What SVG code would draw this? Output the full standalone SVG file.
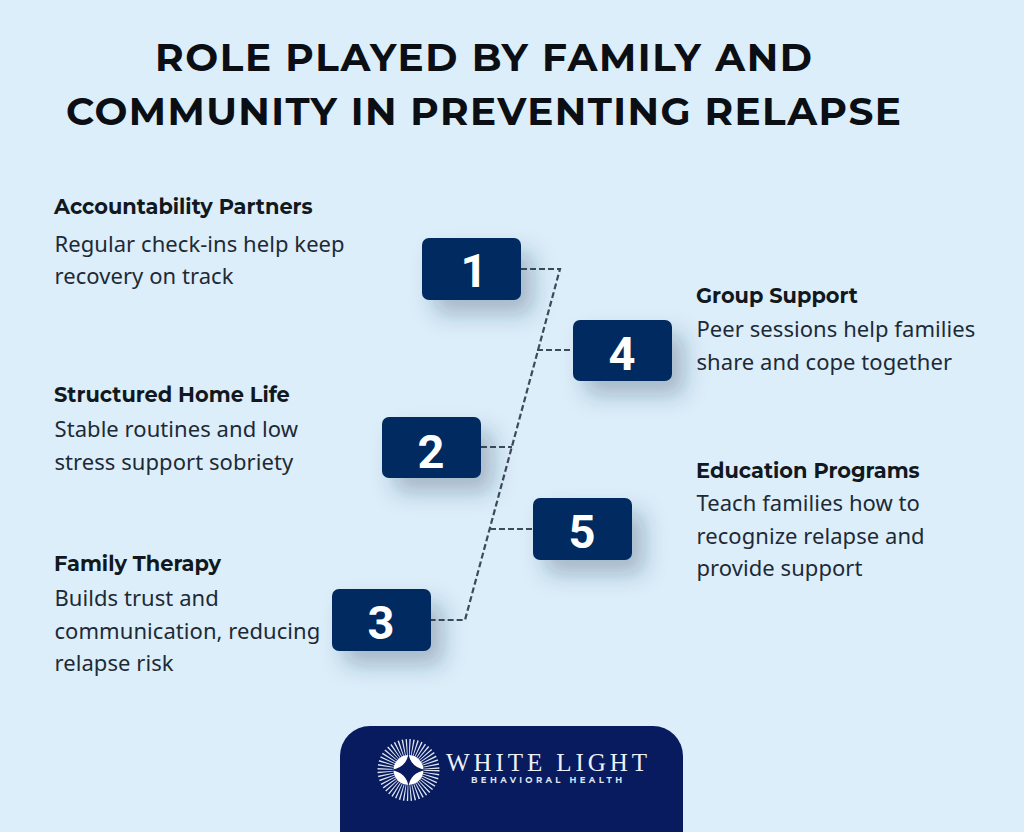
<svg xmlns="http://www.w3.org/2000/svg" width="1024" height="832" viewBox="0 0 1024 832">
<style>
.title{font:700 39px Montserrat,Inter,"Liberation Sans",sans-serif;fill:#0b0f14}
.h{font:700 20.9px Montserrat,Inter,"Liberation Sans",sans-serif;fill:#111820}
.b{font:400 22px "Noto Sans","Open Sans",sans-serif;fill:#1d2a36;letter-spacing:.06px}
.box{fill:#032b60;filter:url(#sh)}
.num{font:700 47px Roboto,"Liberation Sans",sans-serif;fill:#fff;text-anchor:middle}
.c{fill:none;stroke:#3d4a59;stroke-width:2.2;stroke-dasharray:6 3}
</style>
<defs><filter id="sh" x="-40%" y="-40%" width="190%" height="220%"><feDropShadow dx="12" dy="14" stdDeviation="11" flood-color="#1d3555" flood-opacity=".3"/></filter></defs>
<rect width="1024" height="832" fill="#dceefa"/>
<g id="title">
<text class="title" x="155" y="71" textLength="657">ROLE PLAYED BY FAMILY AND</text>
<text class="title" x="66" y="125" textLength="835">COMMUNITY IN PREVENTING RELAPSE</text>
</g>
<g id="connectors">
<path class="c" d="M521 269H560L465 620H431"/>
<path class="c" d="M537 350H573"/>
<path class="c" d="M481 447H512"/>
<path class="c" d="M490 529H533"/>
</g>
<g id="node-1"><rect class="box" x="422" y="238" width="99" height="62" rx="7"/><text class="num" x="474" y="287">1</text>
<text class="h" x="54" y="214">Accountability Partners</text><text class="b" x="54.5" y="252">Regular check-ins help keep</text><text class="b" x="54.5" y="284">recovery on track</text></g>
<g id="node-2"><rect class="box" x="382" y="417" width="99" height="61" rx="7"/><text class="num" x="431" y="468">2</text>
<text class="h" x="54" y="402">Structured Home Life</text><text class="b" x="54.5" y="437">Stable routines and low</text><text class="b" x="54.5" y="470">stress support sobriety</text></g>
<g id="node-3"><rect class="box" x="332" y="589" width="99" height="62" rx="7"/><text class="num" x="381" y="639">3</text>
<text class="h" x="54" y="571">Family Therapy</text><text class="b" x="54.5" y="606">Builds trust and</text><text class="b" x="54.5" y="639">communication, reducing</text><text class="b" x="54.5" y="671">relapse risk</text></g>
<g id="node-4"><rect class="box" x="573" y="320" width="99" height="61" rx="7"/><text class="num" x="622" y="370">4</text>
<text class="h" x="696" y="303">Group Support</text><text class="b" x="696.5" y="337">Peer sessions help families</text><text class="b" x="696.5" y="370">share and cope together</text></g>
<g id="node-5"><rect class="box" x="533" y="498" width="99" height="62" rx="7"/><text class="num" x="582" y="548">5</text>
<text class="h" x="696" y="478">Education Programs</text><text class="b" x="696.5" y="511">Teach families how to</text><text class="b" x="696.5" y="544">recognize relapse and</text><text class="b" x="696.5" y="576">provide support</text></g>
<g id="logo">
<path d="M340 832V756a30 30 0 0 1 30-30H653a30 30 0 0 1 30 30V832Z" fill="#071b5e"/>
<circle cx="408.5" cy="770" r="23" fill="none" stroke="#dfe4f4" stroke-width="16" stroke-dasharray="1.1 1.9107"/>
<circle cx="408.5" cy="770" r="15" fill="#fff"/>
<path d="M408.5 753Q410 767 425.5 770Q410 773 408.5 787Q407 773 391.5 770Q407 767 408.5 753Z" fill="#071b5e"/>
<text x="446" y="771" font-family="Liberation Serif,serif" font-size="25" fill="#eef0f8" textLength="201">WHITE LIGHT</text>
<text x="471" y="783" font-family="Montserrat,Inter,Liberation Sans,sans-serif" font-weight="700" font-size="8.5" fill="#dfe3f2" textLength="151">BEHAVIORAL HEALTH</text>
</g>
</svg>
